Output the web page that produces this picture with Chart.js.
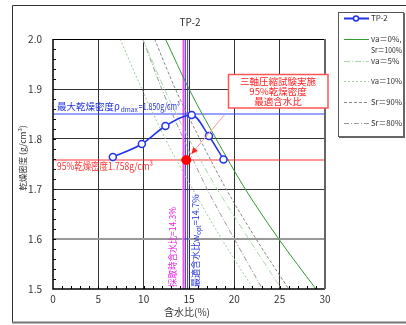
<!DOCTYPE html>
<html>
<head>
<meta charset="utf-8">
<script src="https://cdn.jsdelivr.net/npm/chart.js@4"></script>
<style>
  html, body { margin: 0; padding: 0; background: #fff; }
  #wrap { width: 406px; height: 325px; }
</style>
</head>
<body>
<div id="wrap"><canvas id="chart" width="406" height="325"></canvas></div>
<script>
// ── Data ──────────────────────────────────────────────────────────────────────

const waterContent = [6.6, 9.8, 12.4, 15.3, 17.2, 18.8];          // w (%)
const dryDensity   = [1.764, 1.790, 1.826, 1.848, 1.806, 1.759];   // ρd (g/cm³)

// saturation / air-void curves: w (%) at each density level
const curveDensity = [2.0, 1.9, 1.8, 1.7, 1.6, 1.5];
const wVa0  = [12.4, 15.0, 18.0, 21.2, 24.9, 29.0];
const wVa5  = [9.9, 12.3, 15.0, 18.1, 21.6, 25.2];
const wVa10 = [7.4, 9.8, 12.4, 15.4, 18.6, 22.1];
const wSr90 = [11.2, 13.5, 16.2, 19.1, 22.4, 26.0];
const wSr80 = [9.9, 12.0, 14.4, 17.0, 20.0, 23.1];

const rhoDmax = 1.850;
const rho95   = 1.758;
const wField  = 14.3;
const wOpt    = 14.7;
const wOptLines = [14.6, 14.85];
const arrowFrom = { x: 18.9, y: 1.848 };

const xTicks = [0, 5, 10, 15, 20, 25, 30];
const yTicks = [1.5, 1.6, 1.7, 1.8, 1.9, 2.0];

const JP = '"Noto Sans CJK JP", "Noto Sans", sans-serif';

// ── Helpers ───────────────────────────────────────────────────────────────────

const pts = (xs, ys) => xs.map((x, i) => ({ x, y: ys[i] }));
const vline = x => [{ x, y: 1.5 }, { x, y: 2.0 }];
const hline = y => [{ x: 0, y }, { x: 30, y }];

function curve(label, xs, color, dash) {
  return {
    label, data: pts(xs, curveDensity),
    borderColor: color, borderWidth: 1, borderDash: dash,
    pointRadius: 0, cubicInterpolationMode: "monotone",
  };
}

function plain(data, color, width) {
  return { data, borderColor: color, borderWidth: width, pointRadius: 0 };
}

// ── Overlay: frame, labels, legend, minor ticks ───────────────────────────────

const overlay = {
  id: "overlay",
  beforeDraw(chart) {
    const c = chart.ctx;
    c.save();
    c.fillStyle = "#fff";
    c.fillRect(0, 0, chart.width, chart.height);
    c.strokeStyle = "#333";
    c.lineWidth = 1;
    c.beginPath();
    c.moveTo(406, 5.5); c.lineTo(12.5, 5.5); c.lineTo(12.5, 322);
    c.stroke();
    c.strokeStyle = "#777";
    c.lineWidth = 2;
    c.beginPath(); c.moveTo(12, 322.5); c.lineTo(406, 322.5); c.stroke();
    c.restore();
  },
  afterDraw(chart) {
    const c = chart.ctx;
    const a = chart.chartArea;
    const xs = chart.scales.x, ys = chart.scales.y;
    c.save();

    // plot frame
    c.strokeStyle = "#000"; c.lineWidth = 1;
    c.beginPath(); c.moveTo(a.left, a.top + 0.5); c.lineTo(a.right, a.top + 0.5); c.stroke();
    c.lineWidth = 1.5;
    c.beginPath(); c.moveTo(a.left, a.top); c.lineTo(a.left, a.bottom); c.lineTo(a.right, a.bottom); c.stroke();
    c.strokeStyle = "#666"; c.lineWidth = 2;
    c.beginPath(); c.moveTo(a.right, a.top); c.lineTo(a.right, a.bottom); c.stroke();

    // minor ticks (inward)
    c.strokeStyle = "#000"; c.lineWidth = 1;
    c.beginPath();
    for (let i = 1; i < 30; i++) {
      const px = Math.round(xs.getPixelForValue(i)) + 0.5;
      c.moveTo(px, a.bottom); c.lineTo(px, a.bottom - 3);
    }
    for (let i = 1; i < 25; i++) {
      const py = Math.round(ys.getPixelForValue(1.5 + i * 0.02)) + 0.5;
      c.moveTo(a.left, py); c.lineTo(a.left + 3, py);
    }
    c.stroke();

    c.textBaseline = "middle";

    // title
    c.fillStyle = "#333"; c.font = `10px ${JP}`; c.textAlign = "center";
    c.fillText("TP-2", 190, 22);
    c.fillText("含水比(%)", 187, 312);

    // y title
    c.save();
    c.translate(23, 158); c.rotate(-Math.PI / 2);
    c.font = `8.5px ${JP}`;
    c.fillText("乾燥密度 (g/cm³)", 0, 0);
    c.restore();

    // ρdmax label
    c.textAlign = "left"; c.fillStyle = "#2233dd";
    let x = 57;
    c.font = `9.5px ${JP}`;
    c.fillText("最大乾燥密度ρ", x, 106); x += c.measureText("最大乾燥密度ρ").width + 1;
    c.font = `6.5px ${JP}`;
    c.fillText("dmax", x, 109.5); x += c.measureText("dmax").width + 1;
    c.font = `9.5px ${JP}`;
    c.fillText("=1.850g/cm³", x, 106, 180 - x);

    // 95% label
    c.fillStyle = "#ff3333";
    c.font = `10px ${JP}`;
    c.fillText("95%乾燥密度1.758g/cm³", 57, 166, 96);

    // vertical labels
    c.save();
    c.translate(173, 247); c.rotate(-Math.PI / 2);
    c.fillStyle = "#ee22ee"; c.textAlign = "center"; c.font = `9px ${JP}`;
    c.fillText("採取時含水比=14.3%", 0, 0, 80);
    c.restore();

    c.save();
    c.translate(196, 245); c.rotate(-Math.PI / 2);
    c.fillStyle = "#2233dd"; c.textAlign = "left"; c.font = `9px ${JP}`;
    let t = -42;
    c.fillText("最適含水比w", t, 0); t += c.measureText("最適含水比w").width;
    c.font = `6px ${JP}`;
    c.fillText("opt", t, 3); t += c.measureText("opt").width;
    c.font = `9px ${JP}`;
    c.fillText("=14.7%", t, 0);
    c.restore();

    // annotation box
    c.fillStyle = "#fff";
    c.fillRect(228, 74, 100, 34);
    c.strokeStyle = "#ff5555"; c.lineWidth = 1.5;
    c.strokeRect(228.5, 74.5, 99.5, 33.5);
    c.fillStyle = "#ff2222"; c.textAlign = "center"; c.font = `9.5px ${JP}`;
    c.fillText("三軸圧縮試験実施", 278, 81);
    c.fillText("95%乾燥密度", 278, 91);
    c.fillText("最適含水比", 278, 101.5);

    // arrow to the red dot
    const x0 = xs.getPixelForValue(arrowFrom.x), y0 = ys.getPixelForValue(arrowFrom.y);
    const tx = xs.getPixelForValue(wOpt), ty = ys.getPixelForValue(rho95);
    const ang = Math.atan2(ty - y0, tx - x0);
    const x1 = tx - Math.cos(ang) * 8, y1 = ty - Math.sin(ang) * 8;
    c.strokeStyle = "#ff9999"; c.lineWidth = 1;
    c.beginPath(); c.moveTo(x0, y0); c.lineTo(x1, y1); c.stroke();
    c.fillStyle = "#ff2222";
    c.beginPath();
    c.moveTo(x1, y1);
    c.lineTo(x1 - Math.cos(ang - 0.45) * 7, y1 - Math.sin(ang - 0.45) * 7);
    c.lineTo(x1 - Math.cos(ang + 0.45) * 7, y1 - Math.sin(ang + 0.45) * 7);
    c.closePath(); c.fill();

    // legend box
    c.fillStyle = "#fff"; c.fillRect(338, 12, 66, 125);
    c.strokeStyle = "#555"; c.lineWidth = 1;
    c.strokeRect(338.5, 12.5, 65, 124);
    c.strokeStyle = "#666"; c.lineWidth = 2;
    c.beginPath(); c.moveTo(339, 137); c.lineTo(404, 137); c.lineTo(404, 13); c.stroke();

    const rows = [
      { ds: 0, y: 18, text: ["TP-2"] },
      { ds: 1, y: 39, text: ["va＝0%,", "Sr＝100%"] },
      { ds: 2, y: 61, text: ["va＝5%"] },
      { ds: 3, y: 81, text: ["va＝10%"] },
      { ds: 4, y: 102, text: ["Sr＝90%"] },
      { ds: 5, y: 123, text: ["Sr＝80%"] },
    ];
    c.font = `8px ${JP}`; c.textAlign = "left"; c.fillStyle = "#333";
    rows.forEach(r => {
      const d = chart.data.datasets[r.ds];
      c.save();
      c.strokeStyle = d.borderColor;
      c.lineWidth = r.ds === 0 ? 2 : 1;
      c.setLineDash(d.borderDash || []);
      c.beginPath(); c.moveTo(344, r.y + 0.5); c.lineTo(369, r.y + 0.5); c.stroke();
      c.restore();
      if (r.ds === 0) {
        c.save();
        c.fillStyle = "#fff"; c.strokeStyle = d.borderColor; c.lineWidth = 1.5;
        c.beginPath(); c.arc(356, r.y + 0.5, 2.5, 0, Math.PI * 2); c.fill(); c.stroke();
        c.restore();
      }
      r.text.forEach((s, i) => c.fillText(s, 371, r.y + i * 11, 31));
    });

    c.restore();
  },
};

// ── Chart ─────────────────────────────────────────────────────────────────────

new Chart(document.getElementById("chart"), {
  type: "line",
  data: {
    datasets: [
      {
        label: "TP-2",
        data: pts(waterContent, dryDensity),
        borderColor: "#2233ee", borderWidth: 1.5,
        pointRadius: 3.5, pointBorderWidth: 1.5,
        pointBackgroundColor: "#fff", pointBorderColor: "#2233ee",
        cubicInterpolationMode: "monotone", order: -2,
      },
      curve("va=0%, Sr=100%", wVa0, "#339933", []),
      curve("va=5%", wVa5, "#a8d8a8", [6, 2, 1, 2]),
      curve("va=10%", wVa10, "#99cc99", [2, 2]),
      curve("Sr=90%", wSr90, "#888888", [3, 2]),
      curve("Sr=80%", wSr80, "#999999", [5, 2, 1, 2]),
      plain(hline(rhoDmax), "#3344ff", 1.2),
      plain(hline(rho95), "#ff3333", 1.2),
      plain(vline(wField), "#ff99ff", 1),
      plain(vline(wField + 0.12), "#ee22ee", 1.2),
      plain(vline(wOptLines[0]), "#3333ee", 1),
      plain(vline(wOptLines[1]), "#3333ee", 1),
      {
        data: [{ x: wOpt, y: rho95 }],
        showLine: false, pointRadius: 4.5,
        pointBackgroundColor: "#ff0000", pointBorderColor: "#ff0000",
        order: -3,
      },
    ],
  },
  options: {
    responsive: false,
    animation: false,
    devicePixelRatio: 1,
    layout: { padding: { top: 39, right: 81, left: 0, bottom: 0 } },
    plugins: { legend: { display: false }, tooltip: { enabled: false } },
    scales: {
      x: {
        type: "linear", min: 0, max: 30,
        afterBuildTicks: s => { s.ticks = xTicks.map(v => ({ value: v })); },
        afterFit: s => { s.height = 36; },
        ticks: { color: "#333", font: { family: JP, size: 10 }, padding: 4 },
        grid: {
          drawTicks: false,
          color: ctx => (ctx.tick && (ctx.tick.value === 0 || ctx.tick.value === 30)) ? "transparent" : "#333",
          lineWidth: 1,
        },
        border: { display: false },
      },
      y: {
        type: "linear", min: 1.5, max: 2.0,
        afterBuildTicks: s => { s.ticks = yTicks.map(v => ({ value: v })); },
        afterFit: s => { s.width = 53; },
        ticks: { color: "#333", font: { family: JP, size: 10 }, padding: 11, callback: v => v.toFixed(1) },
        grid: {
          drawTicks: false,
          color: ctx => {
            const v = ctx.tick ? Math.round(ctx.tick.value * 10) : 0;
            if (v === 15 || v === 20) return "transparent";
            return v === 16 ? "#999" : "#333";
          },
          lineWidth: ctx => (ctx.tick && Math.round(ctx.tick.value * 10) === 16) ? 2 : 1,
        },
        border: { display: false },
      },
    },
  },
  plugins: [overlay],
});
</script>
</body>
</html>
